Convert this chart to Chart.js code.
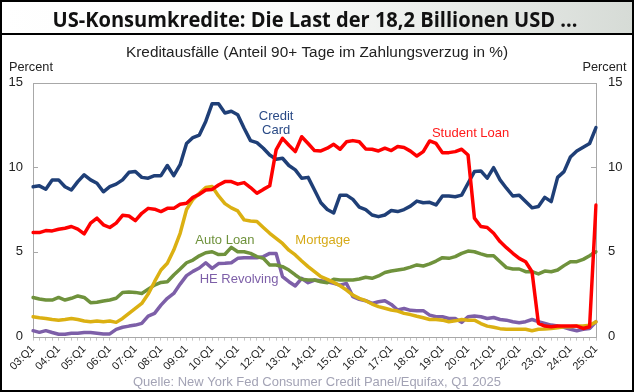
<!DOCTYPE html>
<html>
<head>
<meta charset="utf-8">
<script src="https://cdn.jsdelivr.net/npm/chart.js@4.4.1/dist/chart.umd.min.js"></script>
<style>
  html, body { margin: 0; padding: 0; background: #fff; }
  #chart { display: block; }
</style>
</head>
<body>
<canvas id="chart" width="634" height="392"></canvas>
<script>
// quarterly labels 03:Q1 .. 25:Q1
const quarters = [];
for (let y = 3; y <= 25; y++) {
  for (let q = 1; q <= 4; q++) {
    if (y === 25 && q > 1) break;
    quarters.push(String(y).padStart(2, '0') + ':Q' + q);
  }
}

const creditCard = [8.85, 8.9, 8.7, 9.25, 9.25, 8.85, 8.65, 9.15, 9.55, 9.25, 9.05, 8.55, 8.85, 9.0, 9.25, 9.7, 9.75, 9.4, 9.35, 9.5,
  9.5, 10.1, 9.5, 10.15, 11.4, 11.75, 11.9, 12.7, 13.75, 13.75, 13.2, 13.3, 13.1, 12.3, 11.57, 11.45, 11.12, 10.72, 10.47, 10.53,
  10.1, 9.84, 9.35, 9.4, 8.65, 7.9, 7.5, 7.3, 8.35, 8.35, 8.1, 7.65, 7.5, 7.18, 7.08, 7.18, 7.44, 7.38, 7.5, 7.7,
  8.0, 7.9, 7.93, 7.77, 8.3, 8.3, 8.26, 8.35, 9.05, 9.74, 9.78, 9.35, 9.97, 9.25, 8.76, 8.3, 8.35, 7.97, 7.6, 7.68,
  8.22, 7.97, 9.4, 9.74, 10.6, 10.96, 11.18, 11.4, 12.34];

const studentLoan = [6.14, 6.14, 6.26, 6.24, 6.34, 6.4, 6.5, 6.34, 6.06, 6.7, 6.99, 6.6, 6.44, 6.7, 7.16, 7.12, 6.85, 7.28, 7.57, 7.52,
  7.38, 7.57, 7.57, 7.81, 7.87, 8.22, 8.4, 8.65, 8.69, 8.95, 9.15, 9.15, 9.0, 9.09, 8.8, 8.46, 8.69, 8.9, 11.02, 11.7,
  11.3, 10.92, 11.8, 11.4, 10.98, 10.96, 11.12, 11.35, 11.06, 11.5, 11.57, 11.5, 11.08, 11.06, 10.96, 11.12, 10.98, 11.22, 11.16, 10.95,
  10.66, 10.92, 11.55, 11.4, 10.86, 10.86, 10.92, 11.06, 10.72, 6.99, 6.5, 6.44, 6.1, 5.61, 5.25, 4.92, 4.62, 4.42, 3.83, 0.78,
  0.62, 0.58, 0.62, 0.62, 0.62, 0.62, 0.48, 0.58, 7.77];

const mortgage = [1.17, 1.11, 1.07, 1.01, 0.97, 1.01, 1.07, 1.01, 0.92, 0.88, 0.92, 0.88, 0.92, 0.84, 1.07, 1.37, 1.66, 1.96, 2.51, 3.24,
  3.93, 4.33, 5.11, 6.1, 7.5, 8.1, 8.46, 8.8, 8.86, 8.3, 7.85, 7.6, 7.42, 6.89, 6.83, 6.79, 6.44, 6.1, 5.8, 5.5,
  5.1, 4.82, 4.46, 4.13, 3.83, 3.54, 3.38, 3.2, 3.0, 2.75, 2.45, 2.26, 2.12, 1.92, 1.77, 1.67, 1.57, 1.51, 1.37, 1.3,
  1.2, 1.11, 1.01, 1.01, 0.97, 0.88, 0.93, 1.01, 0.97, 0.97, 0.77, 0.62, 0.55, 0.47, 0.43, 0.43, 0.43, 0.43, 0.35, 0.43,
  0.45, 0.48, 0.52, 0.58, 0.58, 0.62, 0.62, 0.67, 0.87];

const autoLoan = [2.31, 2.22, 2.16, 2.16, 2.31, 2.16, 2.26, 2.4, 2.31, 2.0, 2.03, 2.1, 2.16, 2.26, 2.6, 2.63, 2.61, 2.55, 2.79, 3.04,
  3.2, 3.24, 3.64, 3.99, 4.36, 4.52, 4.77, 4.95, 5.01, 4.84, 4.86, 5.27, 5.01, 5.01, 4.91, 4.72, 4.62, 4.23, 4.23, 4.13,
  3.93, 3.64, 3.38, 3.34, 3.34, 3.24, 3.18, 3.38, 3.34, 3.34, 3.34, 3.4, 3.5, 3.44, 3.58, 3.78, 3.87, 3.93, 3.99, 4.1,
  4.23, 4.17, 4.29, 4.46, 4.66, 4.62, 4.72, 4.91, 5.05, 5.01, 4.88, 4.77, 4.77, 4.42, 4.07, 3.99, 3.99, 3.83, 3.83, 3.7,
  3.87, 3.83, 3.93, 4.19, 4.42, 4.42, 4.56, 4.77, 5.01];

const heRevolving = [0.35, 0.25, 0.35, 0.24, 0.14, 0.14, 0.2, 0.2, 0.24, 0.24, 0.2, 0.16, 0.16, 0.43, 0.55, 0.62, 0.68, 0.78, 1.21, 1.37,
  1.86, 2.26, 2.55, 3.1, 3.6, 3.85, 4.05, 4.36, 4.03, 4.31, 4.33, 4.36, 4.62, 4.66, 4.66, 4.66, 4.72, 4.91, 4.91, 3.54,
  3.24, 2.99, 3.44, 3.18, 3.34, 3.3, 3.24, 3.14, 3.04, 3.14, 2.36, 2.2, 2.12, 1.96, 2.06, 2.12, 1.9, 1.57, 1.66, 1.55,
  1.53, 1.53, 1.27, 1.17, 1.17, 1.07, 1.07, 0.84, 1.17, 1.21, 1.17, 1.07, 1.13, 1.01, 0.97, 0.88, 0.82, 0.88, 1.01, 0.88,
  0.78, 0.68, 0.62, 0.55, 0.43, 0.35, 0.43, 0.48, 0.88];

const yTicks = [0, 5, 10, 15];

// in-chart series names: [text lines, quarter index, value, colour]
const seriesLabels = [
  { lines: ['Credit', 'Card'], i: 38, v: 12.97, color: '#2a4a86' },
  { lines: ['Student Loan'], i: 68.4, v: 12.0, color: '#ff1a1a' },
  { lines: ['Auto Loan'], i: 30.0, v: 5.65, color: '#6f923c' },
  { lines: ['Mortgage'], i: 45.3, v: 5.65, color: '#d6aa18' },
  { lines: ['HE Revolving'], i: 32.2, v: 3.4, color: '#7d5fa8' }
];

function fitText(ctx, text, cx, baseline, width, font, color) {
  ctx.save();
  ctx.font = font;
  ctx.fillStyle = color;
  ctx.textAlign = 'center';
  ctx.textBaseline = 'alphabetic';
  const w = ctx.measureText(text).width;
  ctx.translate(cx, baseline);
  ctx.scale(width / w, 1);
  ctx.fillText(text, 0, 0);
  ctx.restore();
}

const decor = {
  id: 'decor',
  beforeDraw(chart) {
    const ctx = chart.ctx;
    ctx.save();
    ctx.fillStyle = '#fff';
    ctx.fillRect(0, 0, 634, 392);
    // title bar
    const g = ctx.createLinearGradient(0, 0, 634, 0);
    g.addColorStop(0, '#ffffff');
    g.addColorStop(0.45, '#fafbfa');
    g.addColorStop(1, '#d6dbd6');
    ctx.fillStyle = g;
    ctx.fillRect(0, 0, 634, 34);
    ctx.fillStyle = '#000';
    ctx.fillRect(0, 33, 634, 2);
    ctx.restore();

    fitText(ctx, 'US-Konsumkredite: Die Last der 18,2 Billionen USD ...', 315, 26.5, 525, 'bold 22px "Open Sans"', '#111');
    fitText(ctx, 'Kreditausfälle (Anteil 90+ Tage im Zahlungsverzug in %)', 317, 56.5, 382, '14px "Liberation Sans"', '#222');
    fitText(ctx, 'Percent', 31, 71, 44, '12px "Liberation Sans"', '#222');
    fitText(ctx, 'Percent', 604.5, 71, 44, '12px "Liberation Sans"', '#222');
    fitText(ctx, 'Quelle: New York Fed Consumer Credit Panel/Equifax, Q1 2025', 317, 386, 368, '13px "Liberation Sans"', '#a3a3b5');
  },
  beforeDatasetsDraw(chart) {
    const ctx = chart.ctx;
    const a = chart.chartArea;
    const y = chart.scales.y;
    ctx.save();
    ctx.strokeStyle = '#a8a8a8';
    ctx.lineWidth = 1;
    ctx.strokeRect(Math.round(a.left) + 0.5, Math.round(a.top) + 0.5, Math.round(a.right - a.left), Math.round(a.bottom - a.top));
    ctx.beginPath();
    yTicks.slice(1, 3).forEach(t => {
      const py = Math.round(y.getPixelForValue(t)) + 0.5;
      ctx.moveTo(a.left, py); ctx.lineTo(a.left + 5, py);
      ctx.moveTo(a.right - 5, py); ctx.lineTo(a.right, py);
    });
    ctx.stroke();
    ctx.restore();
  },
  afterDatasetsDraw(chart) {
    const ctx = chart.ctx;
    const xs = chart.scales.x, ys = chart.scales.y;
    ctx.save();
    ctx.font = '13px "Liberation Sans"';
    ctx.textAlign = 'center';
    ctx.textBaseline = 'middle';
    seriesLabels.forEach(l => {
      const px = xs.getPixelForValue(l.i);
      const py = ys.getPixelForValue(l.v);
      ctx.fillStyle = l.color;
      l.lines.forEach((t, k) => ctx.fillText(t, px, py + k * 14));
    });
    ctx.restore();
  },
  afterDraw(chart) {
    const ctx = chart.ctx;
    ctx.save();
    ctx.strokeStyle = '#000';
    ctx.lineWidth = 2;
    ctx.strokeRect(1, 1, 632, 390);
    ctx.restore();
  }
};

function line(label, data, color) {
  return {
    label, data,
    borderColor: color,
    backgroundColor: color,
    borderWidth: 3.5,
    pointRadius: 0,
    tension: 0,
    borderJoinStyle: 'round',
    borderCapStyle: 'round',
    fill: false
  };
}

const tickFont = { family: '"Liberation Sans", Arial, sans-serif', size: 13 };

new Chart(document.getElementById('chart'), {
  type: 'line',
  data: {
    labels: quarters,
    datasets: [
      line('Student Loan', studentLoan, '#ff0000'),
      line('Credit Card', creditCard, '#1f3f77'),
      line('Mortgage', mortgage, '#dbb012'),
      line('Auto Loan', autoLoan, '#6f923c'),
      line('HE Revolving', heRevolving, '#7d5fa8')
    ]
  },
  options: {
    responsive: false,
    animation: false,
    devicePixelRatio: 1,
    layout: { padding: { top: 82.5, left: 0, right: 0, bottom: 0 } },
    plugins: { legend: { display: false }, tooltip: { enabled: false } },
    scales: {
      x: {
        type: 'category',
        offset: false,
        border: { display: false },
        grid: { drawOnChartArea: false, drawTicks: true, tickLength: 4, color: '#c4c4c4' },
        ticks: {
          autoSkip: false,
          maxRotation: 45,
          minRotation: 45,
          padding: 2,
          color: '#222',
          font: { family: '"Liberation Sans", Arial, sans-serif', size: 11 },
          callback: (v, i) => (i % 4 === 0 ? quarters[i] : '')
        },
        afterFit: s => { s.height = 55.4; }
      },
      y: {
        position: 'left',
        min: 0, max: 15,
        border: { display: false },
        grid: { display: false, drawTicks: false },
        ticks: { stepSize: 5, padding: 10, color: '#222', font: tickFont },
        afterFit: s => { s.width = 33; }
      },
      y2: {
        position: 'right',
        min: 0, max: 15,
        border: { display: false },
        grid: { display: false, drawTicks: false },
        ticks: { stepSize: 5, padding: 12, color: '#222', font: tickFont },
        afterFit: s => { s.width = 38; }
      }
    }
  },
  plugins: [decor]
});
</script>
</body>
</html>
